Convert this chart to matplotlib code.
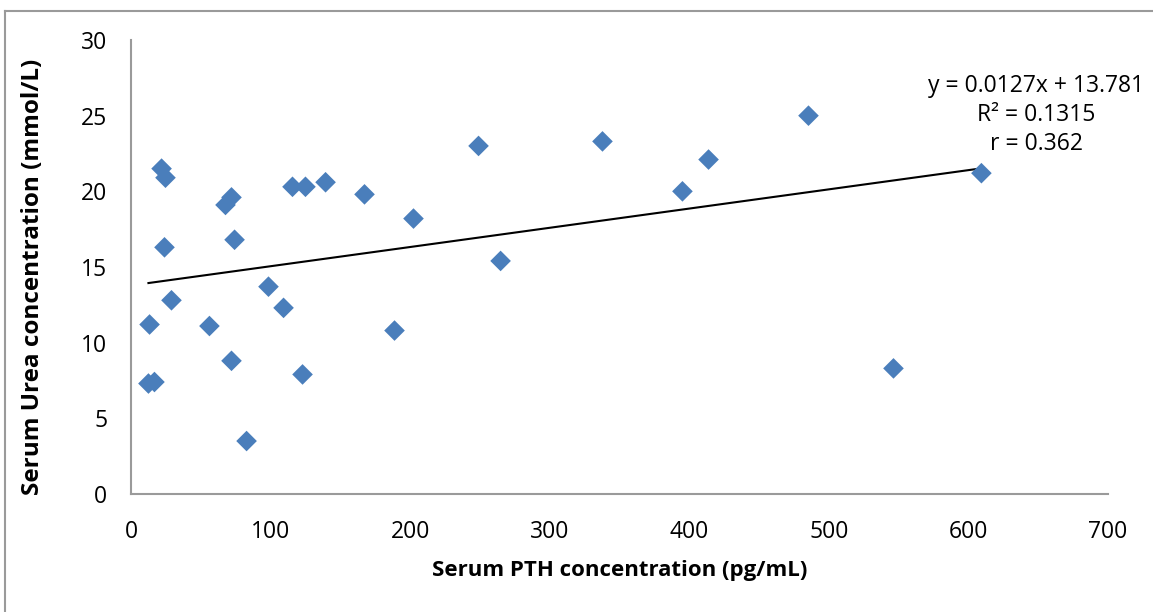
import numpy as np
import matplotlib.pyplot as plt
from matplotlib.lines import Line2D

# PTH (pg/mL) vs urea (mmol/L)
pth = [12.5, 16.8, 13.3, 21.9, 24.7, 24.0, 29.0, 56.2, 67.7, 72.0,
       74.2, 72.0, 82.8, 98.5, 109.3, 115.7, 125.0, 122.9, 139.4, 167.3,
       188.8, 202.4, 249.0, 264.8, 337.8, 395.1, 413.8, 485.4, 546.3, 609.3]
urea = [7.3, 7.4, 11.2, 21.5, 20.9, 16.3, 12.8, 11.1, 19.1, 19.6,
        16.8, 8.8, 3.5, 13.7, 12.3, 20.3, 20.3, 7.9, 20.6, 19.8,
        10.8, 18.2, 23.0, 15.4, 23.3, 20.0, 22.1, 25.0, 8.3, 21.2]

slope = 0.0127
intercept = 13.781
r2 = 0.1315
r = 0.362

W, H = 1153, 612
fig = plt.figure(figsize=(W / 100, H / 100), dpi=100)
ax = fig.add_axes([131 / W, 1 - 494 / H, (1108 - 131) / W, (494 - 40) / H])

ax.scatter(pth, urea, marker='D', s=10.5 ** 2, color='#4a7ebb', edgecolors='none', zorder=3)

# linear trendline over data range
xs = np.array([min(pth), max(pth)])
ax.plot(xs, slope * xs + intercept, color='black', lw=1.5, zorder=2)

ax.set_xlim(0, 700)
ax.set_ylim(0, 30)
ax.set_xticks(range(0, 701, 100))
ax.set_yticks(range(0, 31, 5))

font = 'Open Sans'
for s in ['top', 'right']:
    ax.spines[s].set_visible(False)
for s in ['left', 'bottom']:
    ax.spines[s].set_color('#9a9a9a')
    ax.spines[s].set_linewidth(1.5)
ax.tick_params(length=0, labelsize=16.5)
ax.tick_params(axis='y', pad=17)
ax.tick_params(axis='x', pad=19)
for lab in ax.get_xticklabels() + ax.get_yticklabels():
    lab.set_fontfamily(font)

ax.set_xlabel('Serum PTH concentration (pg/mL)', fontsize=16, fontweight='bold',
              fontfamily=font)
ax.xaxis.set_label_coords(0.5, -0.145)
ax.set_ylabel('Serum Urea concentration (mmol/L)', fontsize=17.5, fontweight='bold',
              fontfamily=font)
ax.yaxis.set_label_coords(-0.088, 0.478)

txt = f'y = {slope}x + {intercept}\nR² = {r2}\nr = {r}'
fig.text(1036 / W, 1 - 115 / H, txt, ha='center', va='center', fontsize=16.5,
         fontfamily=font, linespacing=1.3)

# chart area border (only left/top visible in frame)
fig.add_artist(Line2D([5 / W, 5 / W], [0, 1 - 11 / H], color='#9a9a9a', lw=1.5))
fig.add_artist(Line2D([5 / W, 1], [1 - 11 / H, 1 - 11 / H], color='#9a9a9a', lw=1.5))

fig.savefig('out.png', dpi=100)
